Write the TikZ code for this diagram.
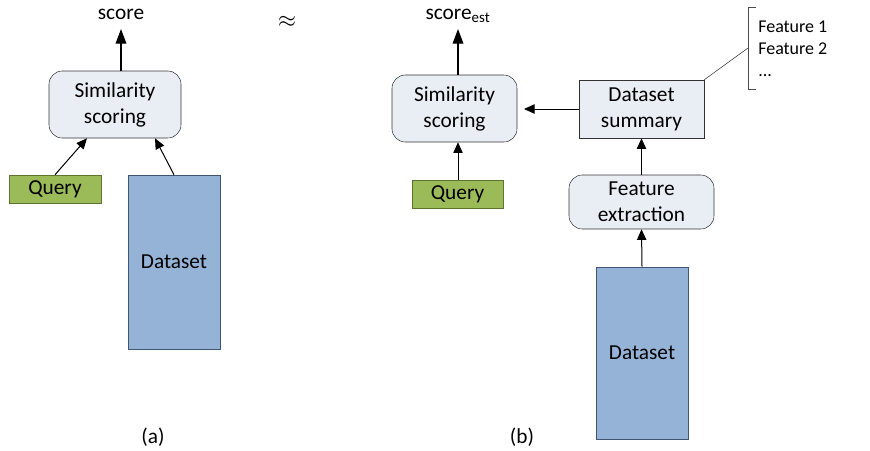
\documentclass[tikz,border=0pt]{standalone}
\usepackage{fontspec}
\setmainfont{Carlito}
\usetikzlibrary{arrows.meta}

\definecolor{StageFill}{HTML}{E9EDF4}
\definecolor{QueryFill}{HTML}{9BBB59}
\definecolor{QueryLine}{HTML}{5E7530}
\definecolor{DataFill}{HTML}{95B3D7}
\definecolor{DataLine}{HTML}{3F5674}

\newcommand{\Bracket}[4]{% x, y top, y bottom, tick
  \draw[black!70] ({#1+#4},#2) -- (#1,#2) -- (#1,#3) -- ({#1+#4},#3);
}

\tikzset{
  px size/.style 2 args={minimum width={#1*0.75pt}, minimum height={#2*0.75pt}},
  stage/.style={draw=black!80, fill=StageFill, rounded corners=10pt, align=center,
    inner sep=0pt, font=\fontsize{16}{19.5}\selectfont},
  summarybox/.style={draw=black!80, fill=StageFill, align=center,
    inner sep=0pt, font=\fontsize{16}{19.5}\selectfont},
  querybox/.style={draw=QueryLine, fill=QueryFill, inner sep=0pt,
    font=\fontsize{16}{19.5}\selectfont},
  databox/.style={draw=DataLine, fill=DataFill, inner sep=0pt,
    font=\fontsize{16}{19.5}\selectfont},
  outtext/.style={inner sep=0pt, anchor=base, font=\fontsize{16}{19.5}\selectfont},
  bigarrow/.style={-{Triangle[length=11pt,width=8pt]}, line width=1pt},
  smallarrow/.style={-{Triangle[length=8pt,width=7pt]}, line width=0.75pt},
}

\begin{document}
\begin{tikzpicture}[x=0.75pt, y=-0.75pt]
  \useasboundingbox (0,0) rectangle (870,450);
  %
  % (a) exact scoring
  \node[stage, px size={132}{67}] (simA) at (115,104.5) {Similarity\\scoring};
  \node[outtext] (scoreA) at (121,19) {score};
  \node[querybox, px size={92}{28}] (queryA) at (55,189) {Query};
  \node[databox, px size={92}{174}] (dataA) at (174,262) {Dataset};
  \node[inner sep=0pt, font=\fontsize{16}{19.5}\selectfont] (labelA) at (153,437) {(a)};
  %
  \draw[bigarrow, shorten >=7.5pt] (simA.north -| scoreA.base) -- (scoreA.base);
  \draw[smallarrow] (queryA.north) -- ([xshift=-21pt]simA.south);
  \draw[smallarrow] (dataA.north) -- ([xshift=30pt]simA.south);
  %
  \node[font=\fontsize{18}{20}\selectfont] (approx) at (287,22) {$\approx$};
  %
  % (b) estimated scoring
  \node[stage, px size={125}{67}] (simB) at (454.5,108.5) {Similarity\\scoring};
  \node[outtext] (scoreB) at (458,19) {score\textsubscript{est}};
  \node[querybox, px size={91}{28}] (queryB) at (457.5,194) {Query};
  \node[summarybox, px size={125}{58}] (summary) at (641.5,109) {Dataset\\summary};
  \node[stage, px size={145}{54}] (extract) at (641.5,202) {Feature\\extraction};
  \node[databox, px size={92}{172}] (dataB) at (642,353) {Dataset};
  \node[inner sep=0pt, font=\fontsize{16}{19.5}\selectfont] (labelB) at (522,437) {(b)};
  %
  \draw[bigarrow, shorten >=7.5pt] (simB.north -| scoreB.base) -- (scoreB.base);
  \draw[smallarrow] (queryB.north -| 458,0) -- (simB.south -| 458,0);
  \draw[smallarrow, shorten >=5pt] (summary.west) -- (simB.east |- summary.west);
  \draw[smallarrow] (extract.north) -- (summary.south);
  \draw[smallarrow] (dataB.north) -- (extract.south);
  %
  % feature list
  \Bracket{748}{7}{89}{8}
  \coordinate (brace) at (748,48);
  \draw[black!80] (summary.north east) -- (brace);
  \node[anchor=north west, align=left, inner sep=0pt,
    font=\fontsize{13.5}{16.5}\selectfont] (feats) at (758,21) {Feature 1\\Feature 2\\...};
\end{tikzpicture}
\end{document}
